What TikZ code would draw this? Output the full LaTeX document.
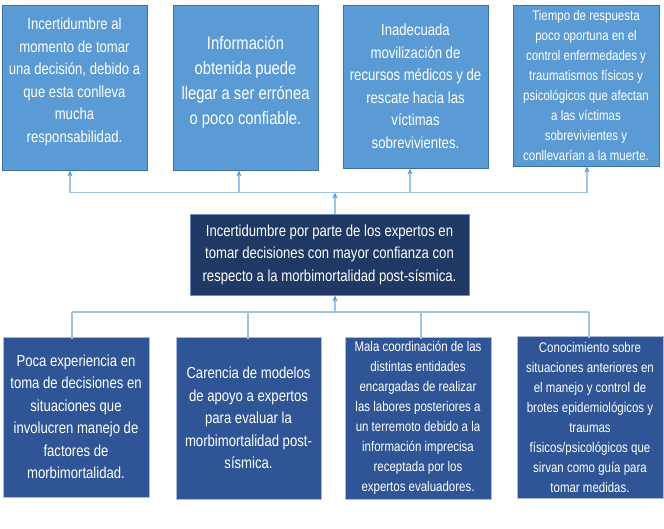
\documentclass[tikz,border=0pt]{standalone}
\usepackage{fontspec}
\setmainfont[FakeStretch=0.82]{Liberation Sans}
\usetikzlibrary{arrows.meta}

\definecolor{topfill}{HTML}{5B9BD5}
\definecolor{topedge}{HTML}{41719C}
\definecolor{midfill}{HTML}{203864}
\definecolor{midedge}{HTML}{6F8FC0}
\definecolor{lowfill}{HTML}{2F5597}
\definecolor{lowedge}{HTML}{A9B9D6}
\definecolor{wire}{HTML}{9DC3E6}
\definecolor{tipblue}{HTML}{5B9BD5}

\newcommand\sizeL{\fontsize{18}{25}\selectfont}
\newcommand\sizeM{\fontsize{16}{22.5}\selectfont}
\newcommand\sizeS{\fontsize{14}{20}\selectfont}

\tikzset{
  box/.style={rectangle, text=white, align=center, inner sep=0pt, line width=0.9pt},
  topbox/.style={box, fill=topfill, draw=topedge},
  midbox/.style={box, fill=midfill, draw=midedge},
  lowbox/.style={box, fill=lowfill, draw=lowedge},
  wireline/.style={draw=wire, line width=1.3pt},
  uparrow/.style={wireline, -{Stealth[length=6pt,width=5pt,color=tipblue]}},
}

\begin{document}
\begin{tikzpicture}[x=1pt,y=-1pt]
\useasboundingbox[fill=white] (0,0) rectangle (664,528);

% effects (top row)
\node[topbox, font=\sizeM, minimum width=145pt, minimum height=165pt] (t1) at (74.5,87.5)
  {Incertidumbre al\\momento de tomar\\una decisión, debido a\\que esta conlleva\\mucha\\responsabilidad.\\[-8pt]};
\node[topbox, font=\sizeL, minimum width=145pt, minimum height=165pt] (t2) at (245.5,87.5)
  {Información\\obtenida puede\\llegar a ser errónea\\o poco confiable.\\[-10pt]};
\node[topbox, font=\sizeM, minimum width=145pt, minimum height=163pt] (t3) at (415.5,86.5)
  {Inadecuada\\movilización de\\recursos médicos y de\\rescate hacia las\\víctimas\\sobrevivientes.};
\node[topbox, font=\sizeS, minimum width=146pt, minimum height=161pt] (t4) at (586,85.5)
  {Tiempo de respuesta\\poco oportuna en el\\control enfermedades y\\traumatismos físicos y\\psicológicos que afectan\\a las víctimas\\sobrevivientes y\\conllevarían a la muerte.};

% central problem
\node[midbox, font=\sizeM, minimum width=279pt, minimum height=81pt] (c) at (329.5,254.5)
  {Incertidumbre por parte de los expertos en\\tomar decisiones con mayor confianza con\\respecto a la morbimortalidad post-sísmica.};

% causes (bottom row)
\node[lowbox, font=\sizeM, minimum width=146pt, minimum height=160pt] (b1) at (76,417)
  {Poca experiencia en\\toma de decisiones en\\situaciones que\\involucren manejo de\\factores de\\morbimortalidad.};
\node[lowbox, font=\sizeM, minimum width=145pt, minimum height=162pt] (b2) at (248.5,418)
  {Carencia de modelos\\de apoyo a expertos\\para evaluar la\\morbimortalidad post-\\sísmica.};
\node[lowbox, font=\sizeS, minimum width=146pt, minimum height=162pt] (b3) at (418,418)
  {Mala coordinación de las\\distintas entidades\\encargadas de realizar\\las labores posteriores a\\un terremoto debido a la\\información imprecisa\\receptada por los\\expertos evaluadores.};
\node[lowbox, font=\sizeS, minimum width=146pt, minimum height=162pt] (b4) at (590,417)
  {Conocimiento sobre\\situaciones anteriores en\\el manejo y control de\\brotes epidemiológicos y\\traumas\\físicos/psicológicos que\\sirvan como guía para\\tomar medidas.};

% upper bus: centre box to effects
\coordinate (u1) at (70,192.5);
\coordinate (u2) at (239,192.5);
\coordinate (u3) at (410,192.5);
\coordinate (u4) at (587,192.5);
\coordinate (uc) at (335,192.5);
\draw[wireline] (u1) -- (u4);
\draw[uparrow] (u1) -- (u1 |- t1.south);
\draw[uparrow] (u2) -- (u2 |- t2.south);
\draw[uparrow] (u3) -- (u3 |- t3.south);
\draw[uparrow] (u4) -- (u4 |- t4.south);
\draw[uparrow] (uc |- c.north) -- (uc);

% lower bus: causes to centre box
\coordinate (l1) at (72,312);
\coordinate (l2) at (248,312);
\coordinate (l3) at (421,312);
\coordinate (l4) at (589,312);
\coordinate (lc) at (335,312);
\draw[wireline] (l1) -- (l4);
\draw[wireline] (l1) -- ([yshift=-2pt]l1 |- b1.north);
\draw[wireline] (l2) -- ([yshift=-2pt]l2 |- b2.north);
\draw[wireline] (l3) -- ([yshift=-2pt]l3 |- b3.north);
\draw[wireline] (l4) -- ([yshift=-2pt]l4 |- b4.north);
\draw[uparrow] (lc) -- (lc |- c.south);
\end{tikzpicture}
\end{document}
